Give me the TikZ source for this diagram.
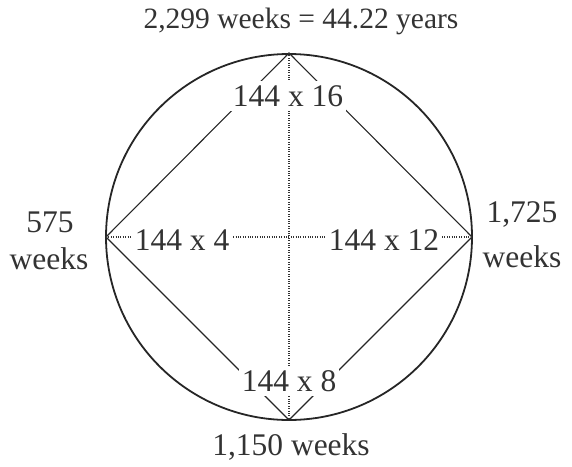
\documentclass[tikz,border=0pt]{standalone}
\usepackage{fontspec}
\setmainfont{Liberation Serif}
\begin{document}
\begin{tikzpicture}[x=1pt,y=-1pt,
  lbl/.style={font=\fontsize{31.5}{35}\selectfont, text=black!80, inner sep=0pt},
  inlbl/.style={lbl, fill=white, inner xsep=3pt, inner ysep=4pt},
  edge/.style={line width=1.1pt, black!85},
  dotline/.style={line width=1.1pt, black!80, dash pattern=on 1pt off 1.4pt},
  ring/.style={line width=1.8pt, black!85}]
\useasboundingbox (0,0) rectangle (572,466);
\coordinate (T) at (289,53);
\coordinate (B) at (289,420);
\coordinate (L) at (106,237);
\coordinate (R) at (472,237);
\coordinate (C) at (289,237);
\node[ring, draw, circle, minimum size=366pt, inner sep=0pt] (circ) at (C) {};
\draw[edge] (T) -- (L) -- (B) -- (R) -- cycle;
\draw[dotline] (T) -- (B);
\draw[dotline] (L) -- (R);
\node[inlbl] (n16) at (288,96) {144 x 16};
\node[inlbl] (n4) at (182,240) {144 x 4};
\node[inlbl] (n12) at (384,240) {144 x 12};
\node[inlbl] (n8) at (289,381) {144 x 8};
\node[lbl, font=\fontsize{29.5}{33}\selectfont] (top) at (301,21) {2,299 weeks = 44.22 years};
\node[lbl] (l1) at (50,222) {575};
\node[lbl] (l2) at (49,259) {weeks};
\node[lbl] (r1) at (522,214) {1,725};
\node[lbl] (r2) at (522,257) {weeks};
\node[lbl] (bot) at (291,447) {1,150 weeks};
\end{tikzpicture}
\end{document}
